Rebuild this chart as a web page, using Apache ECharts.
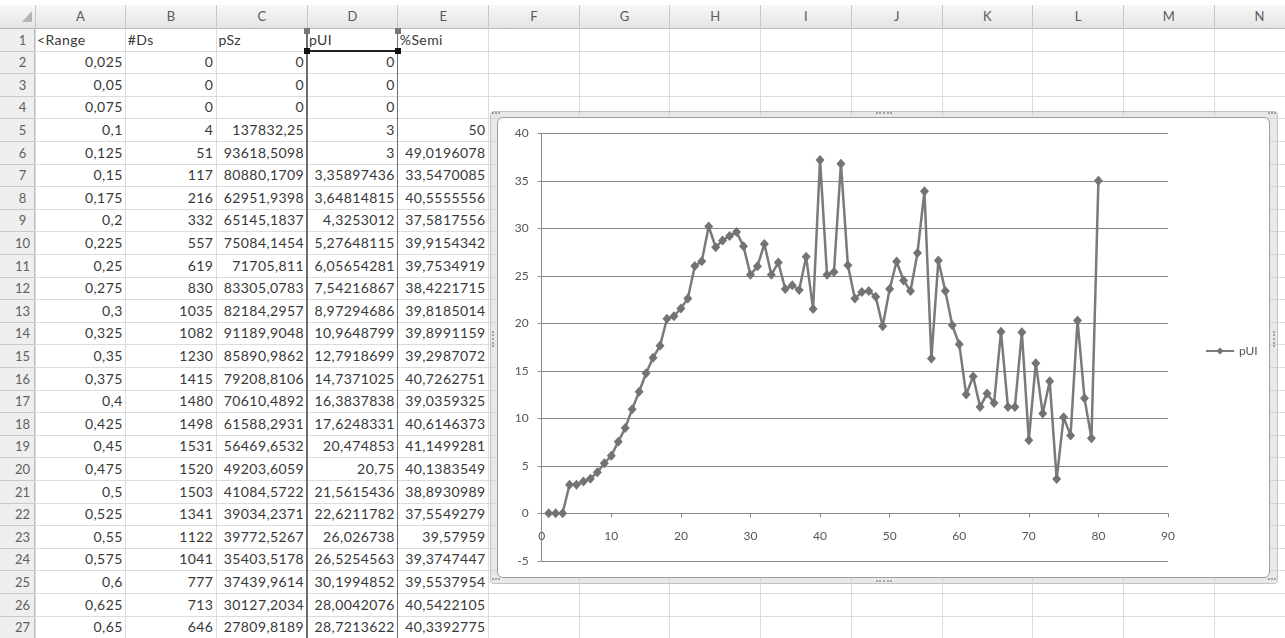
<!DOCTYPE html>
<html>
<head>
<meta charset="utf-8">
<script src="https://cdn.jsdelivr.net/npm/echarts@6/dist/echarts.min.js"></script>
<style>
  html, body { margin: 0; padding: 0; background: #fff; }
  #sheet { position: absolute; left: 0; top: 0; width: 1285px; height: 638px; overflow: hidden;
           font-family: Lato, "Open Sans", sans-serif; }
  #sheet div { position: absolute; box-sizing: border-box; }
  .txt { font-size: 14px; color: #383838; white-space: nowrap; letter-spacing: 0.4px; }
  .hdr { font-size: 13px; color: #5a5a5a; white-space: nowrap; text-align: center; }
  #chart { position: absolute; left: 0; top: 0; width: 1285px; height: 638px; }
</style>
</head>
<body>
<div id="sheet"></div>
<div id="chart"></div>
<script>
// Worksheet columns A..E (rows 2-27)
const rangeVals = [0.025, 0.05, 0.075, 0.1, 0.125, 0.15, 0.175, 0.2, 0.225, 0.25, 0.275, 0.3, 0.325,
  0.35, 0.375, 0.4, 0.425, 0.45, 0.475, 0.5, 0.525, 0.55, 0.575, 0.6, 0.625, 0.65];
const dsCounts = [0, 0, 0, 4, 51, 117, 216, 332, 557, 619, 830, 1035, 1082, 1230, 1415, 1480, 1498,
  1531, 1520, 1503, 1341, 1122, 1041, 777, 713, 646];
const pSz = [0, 0, 0, 137832.25, 93618.5098, 80880.1709, 62951.9398, 65145.1837, 75084.1454, 71705.811,
  83305.0783, 82184.2957, 91189.9048, 85890.9862, 79208.8106, 70610.4892, 61588.2931, 56469.6532,
  49203.6059, 41084.5722, 39034.2371, 39772.5267, 35403.5178, 37439.9614, 30127.2034, 27809.8189];
const semiPct = [null, null, null, 50, 49.0196078, 33.5470085, 40.5555556, 37.5817556, 39.9154342,
  39.7534919, 38.4221715, 39.8185014, 39.8991159, 39.2987072, 40.7262751, 39.0359325, 40.6146373,
  41.1499281, 40.1383549, 38.8930989, 37.5549279, 39.57959, 39.3747447, 39.5537954, 40.5422105, 40.3392775];
// pUI series: all 80 rows (first 26 visible in the sheet)
const pUI = [0, 0, 0, 3, 3, 3.35897436, 3.64814815, 4.3253012, 5.27648115, 6.05654281, 7.54216867,
  8.97294686, 10.9648799, 12.7918699, 14.7371025, 16.3837838, 17.6248331, 20.474853, 20.75, 21.5615436,
  22.6211782, 26.026738, 26.5254563, 30.1994852, 28.0042076, 28.7213622,
  29.2, 29.6, 28.1, 25.1, 26.0, 28.35, 25.1, 26.4, 23.6, 24.0, 23.5, 27.0, 21.5, 37.2,
  25.1, 25.4, 36.8, 26.1, 22.6, 23.3, 23.4, 22.8, 19.7, 23.6, 26.5, 24.5, 23.4, 27.4,
  33.9, 16.3, 26.6, 23.4, 19.8, 17.8, 12.5, 14.4, 11.2, 12.6, 11.6, 19.1, 11.2, 11.2,
  19.05, 7.7, 15.8, 10.5, 13.9, 3.6, 10.1, 8.2, 20.3, 12.1, 7.9, 35.0];
const headers = ['<Range', '#Ds', 'pSz', 'pUI', '%Semi'];
const colLetters = ['A', 'B', 'C', 'D', 'E', 'F', 'G', 'H', 'I', 'J', 'K', 'L', 'M', 'N'];
const seriesName = 'pUI';
const xTicks = { min: 0, max: 90, step: 10 };
const yTicks = { min: -5, max: 40, step: 5 };

// ---- worksheet grid ----
const sheet = document.getElementById('sheet');
const COL0 = 35, COLW = 90.7, HEAD_TOP = 5, ROW0 = 28.5, ROWH = 22.6, NROWS = 27;
function box(css, text, cls) {
  const d = document.createElement('div');
  d.style.cssText = css;
  if (cls) d.className = cls;
  if (text !== undefined) d.textContent = text;
  sheet.appendChild(d);
  return d;
}
const fmt = v => String(v).replace('.', ',');

// header backgrounds
box(`left:0;top:${HEAD_TOP}px;width:1285px;height:${ROW0 - HEAD_TOP}px;background:linear-gradient(#f8f8f8,#e4e4e4);border-bottom:1px solid #b9b9b9;`);
box(`left:0;top:${ROW0}px;width:${COL0}px;height:${638 - ROW0}px;background:#efefef;border-right:1px solid #b9b9b9;`);
// select-all triangle
box(`left:22px;top:11px;width:0;height:0;border-left:10px solid transparent;border-bottom:11px solid #b4b4b4;`);

// cell gridlines
for (let r = 1; r <= NROWS; r++) {
  const y = ROW0 + r * ROWH;
  box(`left:${COL0}px;top:${y - 0.5}px;width:${1285 - COL0}px;height:1px;background:#dcdcdc;`);
  box(`left:0;top:${y - 0.5}px;width:${COL0}px;height:1px;background:#c9c9c9;`);
}
for (let c = 0; c <= colLetters.length; c++) {
  const x = COL0 + c * COLW;
  box(`left:${x - 0.5}px;top:${ROW0}px;width:1px;height:${638 - ROW0}px;background:#dcdcdc;`);
  box(`left:${x - 0.5}px;top:${HEAD_TOP}px;width:1px;height:${ROW0 - HEAD_TOP}px;background:#c6c6c6;`);
}
// column letters
colLetters.forEach((L, c) => {
  box(`left:${COL0 + c * COLW}px;top:${HEAD_TOP}px;width:${COLW}px;height:${ROW0 - HEAD_TOP}px;line-height:${ROW0 - HEAD_TOP}px;`, L, 'hdr');
});
// row numbers
for (let r = 1; r <= NROWS; r++) {
  box(`left:5px;top:${ROW0 + (r - 1) * ROWH}px;width:${COL0}px;height:${ROWH}px;line-height:${ROWH}px;color:#606060;`, String(r), 'hdr');
}
// row 1 labels
headers.forEach((h, c) => {
  box(`left:${COL0 + c * COLW + 2}px;top:${ROW0}px;height:${ROWH}px;line-height:${ROWH}px;`, h, 'txt');
});
// data rows
const cols = [rangeVals, dsCounts, pSz, pUI, semiPct];
for (let i = 0; i < rangeVals.length; i++) {
  const y = ROW0 + (i + 1) * ROWH;
  cols.forEach((arr, c) => {
    const v = arr[i];
    if (v === null || v === undefined) return;
    box(`left:${COL0 + c * COLW}px;top:${y}px;width:${COLW - 3}px;height:${ROWH}px;line-height:${ROWH}px;text-align:right;`, fmt(v), 'txt');
  });
}
// source-range outline on column D
const dL = COL0 + 3 * COLW, dR = COL0 + 4 * COLW;
box(`left:${dL - 1}px;top:${ROW0}px;width:1.6px;height:${638 - ROW0}px;background:#6e6e6e;`);
box(`left:${dR - 1}px;top:${ROW0}px;width:1.6px;height:${638 - ROW0}px;background:#6e6e6e;`);
box(`left:${dL}px;top:${ROW0 + ROWH - 1}px;width:${COLW}px;height:2px;background:#222;`);
[[dL, ROW0 + ROWH, '#111'], [dR, ROW0 + ROWH, '#111'], [dL, ROW0 + 2, '#777'], [dR, ROW0 + 2, '#777']].forEach(([x, y, c]) => {
  box(`left:${x - 3}px;top:${y - 3}px;width:6px;height:6px;background:${c};`);
});

// chart object frame
box(`left:490px;top:111px;width:788px;height:473px;background:rgba(205,205,205,0.45);border:1px solid #c2c2c2;border-radius:4px;`);
box(`left:497px;top:117px;width:773px;height:461px;background:#fff;border:1px solid #9e9e9e;border-radius:6px;`);
// frame grips
box(`left:876px;top:112px;width:16px;height:2px;border-top:2px dotted #a4a4a4;`);
box(`left:876px;top:580px;width:16px;height:2px;border-top:2px dotted #a4a4a4;`);
box(`left:492px;top:331px;width:2px;height:16px;border-left:2px dotted #a4a4a4;`);
box(`left:1273px;top:331px;width:2px;height:16px;border-left:2px dotted #a4a4a4;`);
[[492, 112], [1268, 112], [492, 578], [1268, 578]].forEach(([x, y]) => {
  box(`left:${x}px;top:${y}px;width:8px;height:2px;border-top:2px dotted #a4a4a4;`);
});

// ---- chart ----
const xIndex = pUI.map((_, i) => i + 1);
const axisGray = '#888888';
const labelFont = { fontFamily: 'Lato, "Open Sans", sans-serif', fontSize: 12, color: '#555555' };
const plot = { left: 541.7, top: 133.3, width: 626.3, height: 427.5 };
// horizontal axis sits on the y = 0 line, one 5-unit band above the bottom of the plot
const xAxisLift = plot.height * (0 - yTicks.min) / (yTicks.max - yTicks.min);
const chart = echarts.init(document.getElementById('chart'), null, { renderer: 'canvas' });
chart.setOption({
  animation: false,
  backgroundColor: 'transparent',
  grid: Object.assign({ containLabel: false }, plot),
  xAxis: {
    type: 'value', min: xTicks.min, max: xTicks.max, interval: xTicks.step,
    position: 'bottom', offset: -xAxisLift,
    axisLine: { show: true, onZero: false, lineStyle: { color: axisGray, width: 1 } },
    axisTick: { show: true, length: 4, lineStyle: { color: axisGray } },
    axisLabel: Object.assign({ margin: 17 }, labelFont),
    splitLine: { show: false }
  },
  yAxis: {
    type: 'value', min: yTicks.min, max: yTicks.max, interval: yTicks.step,
    axisLine: { show: true, onZero: false, lineStyle: { color: axisGray, width: 1 } },
    axisTick: { show: true, length: 4, lineStyle: { color: axisGray } },
    axisLabel: Object.assign({ margin: 13 }, labelFont),
    splitLine: { show: true, lineStyle: { color: axisGray, width: 1 } }
  },
  legend: {
    left: 1200, top: 340, orient: 'vertical',
    itemWidth: 28, itemHeight: 9, itemGap: 5,
    textStyle: { fontFamily: 'Lato, "Open Sans", sans-serif', fontSize: 12, color: '#555555', padding: [0, 0, 0, 0] },
    data: [seriesName]
  },
  series: [{
    type: 'line', name: seriesName,
    data: xIndex.map((x, i) => [x, pUI[i]]),
    symbol: 'diamond', symbolSize: [9, 10],
    lineStyle: { color: '#7a7a7a', width: 2.5 },
    itemStyle: { color: '#737373' },
    emphasis: { disabled: true }
  }]
});
</script>
</body>
</html>
